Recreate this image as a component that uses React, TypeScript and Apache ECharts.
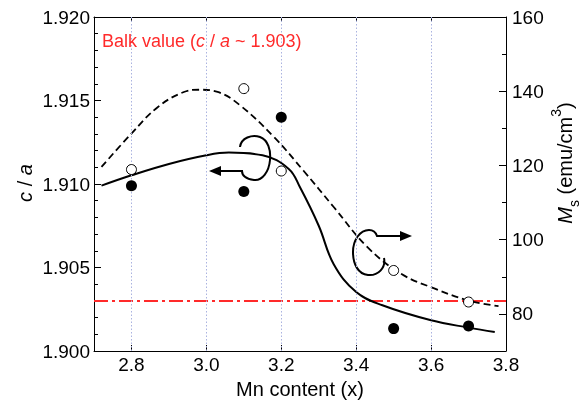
import React, { useEffect, useRef } from "react";
import * as echarts from "echarts";

// ---- data ----
const sampleX = [2.8, 3.1, 3.2, 3.5, 3.7];
const caValues = [1.9099, 1.90955, 1.914, 1.90134, 1.9015];
const msValues = [118.9, 140.7, 118.5, 91.7, 83.2];

const caFitX = [2.72, 2.8, 2.9, 3.0, 3.06, 3.15, 3.22, 3.25, 3.3, 3.34, 3.4, 3.47, 3.6, 3.7, 3.77];
const caFitY = [1.9099, 1.91052, 1.9112, 1.91172, 1.91188, 1.91172, 1.9109, 1.9098, 1.9075, 1.9052, 1.90353, 1.90274, 1.90184, 1.9014, 1.90114];

const msFitX = [2.72, 2.8, 2.87, 2.94, 2.98, 3.03, 3.09, 3.18, 3.26, 3.34, 3.43, 3.52, 3.61, 3.7, 3.78];
const msFitY = [119.6, 128.6, 135.7, 139.8, 140.4, 139.8, 136.2, 127.7, 118.5, 108.8, 98, 90.8, 86.8, 83.6, 82.1];

const bulkValue = 1.903;
const bulkX = [2.7, 3.8];
const xTicks = [2.8, 3.0, 3.2, 3.4, 3.6, 3.8];
const gridX = [2.8, 3.0, 3.2, 3.4, 3.6];
const msTicks = [80, 100, 120, 140, 160];

const FONT = "'Liberation Sans', Arial, Helvetica, sans-serif";

echarts.graphic.registerShape(
  "curlLeft",
  echarts.graphic.extendPath(
    "M 240 147 C 241 138 252 134 260 137 C 268 140 271 150 270 160 C 269 172 262 181 254 180 C 247 179 242 176 242 171 L 218 171",
    {}
  )
);
echarts.graphic.registerShape(
  "curlRight",
  echarts.graphic.extendPath(
    "M 384 258 C 386 268 378 276 368 275 C 358 274 353 264 353 252 C 353 240 360 230 369 230 C 374 230 376 233 377 236 L 402 236",
    {}
  )
);

export default function App() {
  const ref = useRef<HTMLDivElement>(null);
  useEffect(() => {
    if (!ref.current) return;
    const chart = echarts.init(ref.current, null, { renderer: "svg" });
    const black = "#000";
    const option: any = {
      animation: false,
      textStyle: { fontFamily: FONT },
      grid: { left: 94, top: 17, width: 412, height: 334, outerBoundsMode: "none", containLabel: false },
      xAxis: [
        {
          type: "value",
          min: 2.7,
          max: 3.8,
          position: "bottom",
          axisLine: { show: true, lineStyle: { color: black, width: 1 } },
          axisTick: { show: true, inside: true, length: 6, customValues: xTicks, lineStyle: { color: black } },
          axisLabel: {
            customValues: xTicks,
            formatter: (v: number) => v.toFixed(1),
            fontSize: 19,
            color: black,
            margin: 4,
            fontFamily: FONT,
          },
          splitLine: { show: false },
          name: "Mn content (x)",
          nameLocation: "middle",
          nameGap: 28,
          nameTextStyle: { fontSize: 20, color: black, fontFamily: FONT },
        },
        {
          type: "value",
          min: 2.7,
          max: 3.8,
          position: "top",
          axisLine: { show: true, lineStyle: { color: black, width: 1 } },
          axisTick: { show: true, inside: true, length: 5, customValues: xTicks, lineStyle: { color: black } },
          axisLabel: { show: false },
          splitLine: { show: false },
        },
      ],
      yAxis: [
        {
          type: "value",
          min: 1.9,
          max: 1.92,
          interval: 0.005,
          position: "left",
          axisLine: { show: true, lineStyle: { color: black, width: 1 } },
          axisTick: { show: true, inside: true, length: 7, lineStyle: { color: black } },
          minorTick: { show: true, splitNumber: 5, length: 4, lineStyle: { color: black } },
          axisLabel: {
            formatter: (v: number) => v.toFixed(3),
            fontSize: 19,
            color: black,
            margin: 4,
            fontFamily: FONT,
          },
          splitLine: { show: false },
          minorSplitLine: { show: false },
        },
        {
          type: "value",
          min: 70,
          max: 160,
          position: "right",
          axisLine: { show: true, lineStyle: { color: black, width: 1 } },
          axisTick: { show: true, inside: true, length: 7, customValues: msTicks, lineStyle: { color: black } },
          axisLabel: {
            customValues: msTicks,
            fontSize: 19,
            color: black,
            margin: 6,
            fontFamily: FONT,
          },
          splitLine: { show: false },
        },
        {
          type: "value",
          min: 70,
          max: 160,
          interval: 10,
          position: "right",
          axisLine: { show: false },
          axisTick: { show: true, inside: true, length: 4, lineStyle: { color: black } },
          axisLabel: { show: false },
          splitLine: { show: false },
        },
      ],
      series: [
        {
          name: "grid",
          type: "line",
          data: [],
          xAxisIndex: 0,
          yAxisIndex: 0,
          silent: true,
          z: 1,
          markLine: {
            silent: true,
            symbol: ["none", "none"],
            label: { show: false },
            lineStyle: { color: "#aab3e0", width: 1, type: [1.5, 2] },
            data: gridX.map((x) => ({ xAxis: x })),
          },
        },
        {
          name: "bulk",
          type: "line",
          xAxisIndex: 0,
          yAxisIndex: 0,
          showSymbol: false,
          silent: true,
          z: 2,
          lineStyle: { color: "#ff2a2a", width: 2, type: [14, 4, 3, 4] },
          data: bulkX.map((x) => [x, bulkValue]),
        },
        {
          name: "c/a fit",
          type: "line",
          xAxisIndex: 0,
          yAxisIndex: 0,
          smooth: 0.4,
          showSymbol: false,
          z: 3,
          lineStyle: { color: black, width: 2 },
          data: caFitX.map((x, i) => [x, caFitY[i]]),
        },
        {
          name: "Ms fit",
          type: "line",
          xAxisIndex: 0,
          yAxisIndex: 1,
          smooth: 0.4,
          showSymbol: false,
          z: 3,
          lineStyle: { color: black, width: 1.8, type: [7, 4] },
          data: msFitX.map((x, i) => [x, msFitY[i]]),
        },
        {
          name: "c/a",
          type: "scatter",
          xAxisIndex: 0,
          yAxisIndex: 0,
          symbol: "circle",
          symbolSize: 11,
          z: 5,
          itemStyle: { color: black, opacity: 1 },
          data: sampleX.map((x, i) => [x, caValues[i]]),
        },
        {
          name: "Ms",
          type: "scatter",
          xAxisIndex: 0,
          yAxisIndex: 1,
          symbol: "circle",
          symbolSize: 10,
          z: 5,
          itemStyle: { color: "#fff", borderColor: black, borderWidth: 1, opacity: 1 },
          data: sampleX.map((x, i) => [x, msValues[i]]),
        },
      ],
      graphic: [
        {
          type: "text",
          x: 102,
          y: 41,
          z: 10,
          style: {
            text: "Balk value ({i|c} / {i|a} ~ 1.903)",
            fill: "#ff2a2a",
            font: `18px ${FONT}`,
            verticalAlign: "middle",
            rich: {
              i: { fontStyle: "italic", fill: "#ff2a2a", fontSize: 18, fontFamily: FONT },
            },
          },
        },
        {
          type: "text",
          x: 25,
          y: 183,
          rotation: Math.PI / 2,
          style: {
            text: "{i|c} / {i|a}",
            fill: black,
            font: `20px ${FONT}`,
            align: "center",
            verticalAlign: "middle",
            rich: { i: { fontStyle: "italic", fontSize: 20, fontFamily: FONT } },
          },
        },
        {
          type: "text",
          x: 565,
          y: 163,
          rotation: Math.PI / 2,
          style: {
            text: "{i|M}{sub|s} (emu/cm{sup|3})",
            fill: black,
            font: `20px ${FONT}`,
            align: "center",
            verticalAlign: "middle",
            rich: {
              i: { fontStyle: "italic", fontSize: 20, fontFamily: FONT, lineHeight: 20 },
              sub: { fontSize: 14, fontFamily: FONT, verticalAlign: "bottom", lineHeight: 14, padding: [0, 0, -6, 0] },
              sup: { fontSize: 14, fontFamily: FONT, verticalAlign: "top", lineHeight: 14, padding: [-6, 0, 0, 0] },
            },
          },
        },
        {
          type: "curlLeft",
          x: 0,
          y: 0,
          style: { fill: null, stroke: black, lineWidth: 2 },
        },
        {
          type: "polygon",
          shape: { points: [[209, 171], [221, 166], [221, 176]] },
          style: { fill: black },
        },
        {
          type: "curlRight",
          x: 0,
          y: 0,
          style: { fill: null, stroke: black, lineWidth: 2 },
        },
        {
          type: "polygon",
          shape: { points: [[412, 236], [400, 231], [400, 241]] },
          style: { fill: black },
        },
      ],
    };
    chart.setOption(option);
    return () => chart.dispose();
  }, []);
  return <div ref={ref} style={{ position: "fixed", left: 0, top: 0, width: 585, height: 403 }} />;
}
